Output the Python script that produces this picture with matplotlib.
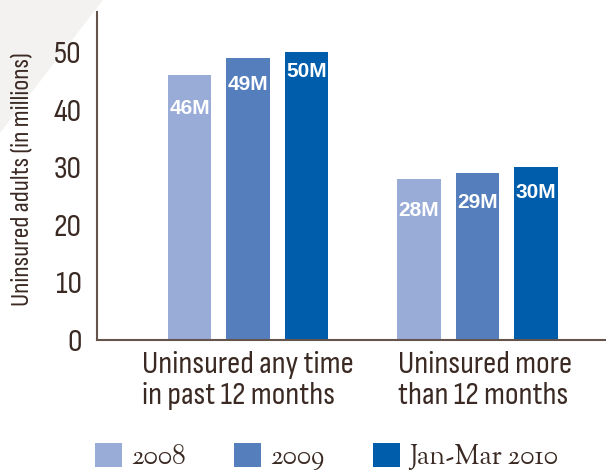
import matplotlib
matplotlib.use("Agg")
import matplotlib.pyplot as plt
import numpy as np
from matplotlib.patches import Patch, Polygon
from matplotlib.transforms import ScaledTranslation

# data (millions of uninsured adults)
categories = ["Uninsured any time\nin past 12 months", "Uninsured more\nthan 12 months"]
periods = ["2008", "2009", "Jan-Mar 2010"]
values_2008 = [46, 28]
values_2009 = [49, 29]
values_2010 = [50, 30]
bar_labels = [["46M", "28M"], ["49M", "29M"], ["50M", "30M"]]

colors = ["#99acd7", "#557ebd", "#005dab"]
label_drop = [[24, 23], [19, 21], [14, 18]]  # points below bar top, per bar
text_col = "#3b2a23"
spine_col = "#64544c"
narrow = ["Sofia Sans Condensed", "DejaVu Sans"]
serif = ["Sorts Mill Goudy", "DejaVu Serif"]

fig = plt.figure(figsize=(6.06, 4.73), dpi=100)
fig.add_artist(Polygon([(0, 1), (103 / 606, 1), (0, 1 - 133 / 473)],
                       closed=True, transform=fig.transFigure,
                       facecolor="#f3f2f0", edgecolor="none", zorder=0))

ax = fig.add_axes([97 / 606, 1 - 340 / 473, 1 - 97 / 606, 328 / 473])
ax.patch.set_alpha(0)

x = np.arange(len(categories))
step = 0.255
width = 0.19
series = [values_2008, values_2009, values_2010]
for i, vals in enumerate(series):
    pos = x + (i - 1) * step
    ax.bar(pos, vals, width, color=colors[i], label=periods[i], zorder=2)
    for j, v in enumerate(vals):
        ax.annotate(bar_labels[i][j], (pos[j], v), xytext=(0, -label_drop[i][j]),
                    textcoords="offset points", ha="center", va="center",
                    color="white", fontsize=15, fontweight="bold",
                    family=["Liberation Sans", "DejaVu Sans"], zorder=3)

ax.set_xlim(-0.658, 1.56)
ax.set_ylim(0, 57)
ax.set_yticks([0, 10, 20, 30, 40, 50])
ax.set_xticks(x)
ax.set_xticklabels(categories, ma="left", linespacing=1.12)

for lab in ax.get_yticklabels() + ax.get_xticklabels():
    lab.set_family(narrow)
    lab.set_fontsize(23.5)
    lab.set_color(text_col)
ax.tick_params(axis="both", length=0)
ax.tick_params(axis="y", pad=11)
ax.tick_params(axis="x", pad=8)
# second category label sits a little right of its group in the original
lab2 = ax.get_xticklabels()[1]
lab2.set_transform(lab2.get_transform() + ScaledTranslation(0.08, 0, fig.dpi_scale_trans))

for s in ["top", "right"]:
    ax.spines[s].set_visible(False)
for s in ["left", "bottom"]:
    ax.spines[s].set_color(spine_col)
    ax.spines[s].set_linewidth(1.5)

ax.set_ylabel("Uninsured adults (in millions)", family=narrow, fontsize=19,
              color=text_col)
ax.yaxis.set_label_coords((23 - 97) / (606 - 97), 0.49)
ax.yaxis.label.set_verticalalignment("center")

handles = [Patch(facecolor=c, edgecolor="none") for c in colors]
leg = fig.legend(handles, periods, loc="upper left",
                 bbox_to_anchor=(95 / 606, 1 - 443 / 473), ncol=3, frameon=False,
                 borderpad=0, borderaxespad=0, handlelength=1.0, handleheight=1.0,
                 handletextpad=0.33, columnspacing=1.8,
                 prop={"family": serif, "size": 19.5})
for t in leg.get_texts():
    t.set_color(text_col)

fig.savefig("out.png", dpi=100)
